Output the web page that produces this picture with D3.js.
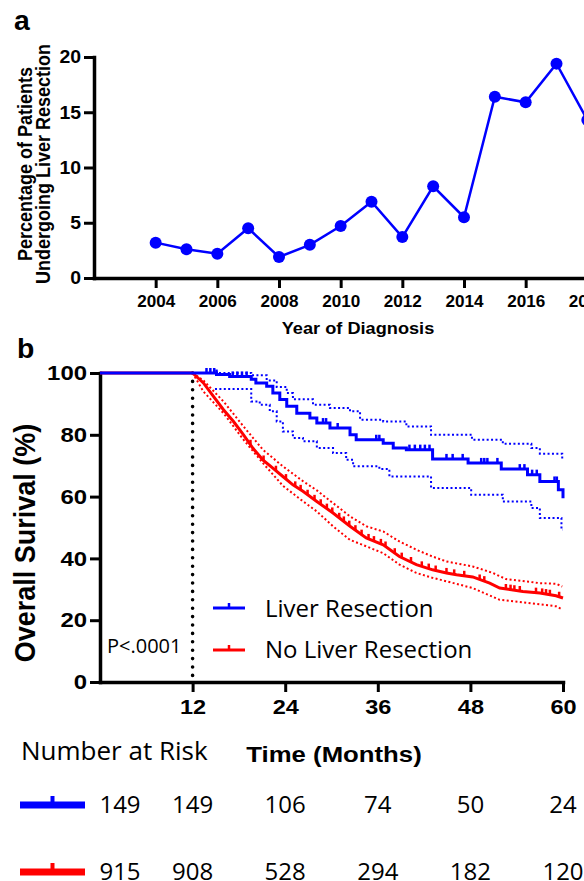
<!DOCTYPE html>
<html>
<head>
<meta charset="utf-8">
<title>Liver resection trends and survival</title>
<script src="https://d3js.org/d3.v7.min.js"></script>
<style>
  body { margin: 0; background: #fff; }
  svg { display: block; }
  .bold { font-family: "Liberation Sans", Arial, Helvetica, sans-serif; font-weight: bold; }
  .reg { font-family: "Open Sans", "Noto Sans", sans-serif; }
</style>
</head>
<body>
<svg id="chart" width="584" height="881"></svg>
<script>
// ---- panel a: percentage resected by year ----
var years = [2004, 2005, 2006, 2007, 2008, 2009, 2010, 2011, 2012, 2013, 2014, 2015, 2016, 2017, 2018];
var pctResected = [3.2, 2.6, 2.2, 4.5, 1.9, 3.0, 4.7, 6.9, 3.7, 8.3, 5.5, 16.4, 15.9, 19.4, 14.3];
var yearTicks = [2004, 2006, 2008, 2010, 2012, 2014, 2016, 2018, 2020];
var pctTicks = [0, 5, 10, 15, 20];

// ---- panel b: Kaplan-Meier ----
var monthTicks = [12, 24, 36, 48, 60];
var survTicks = [0, 20, 40, 60, 80, 100];

// liver resection (step curve)
var resMonths = [0, 12, 15.1, 16.8, 19.6, 20.2, 21.6, 22.4, 23.3, 24.2, 25.5, 27.2, 28.1, 29.8, 32.4, 33.2, 36.7, 38, 39.7, 43.1, 47.7, 52, 55.4, 57, 59.4, 60];
var resSurv   = [100, 100, 99.5, 98.9, 98, 96.8, 95.7, 93.5, 91.4, 89.2, 87, 85.4, 83.8, 82.2, 80, 78.4, 77.3, 75.7, 75.2, 72.2, 70.9, 68.9, 67.1, 64.9, 62.2, 59.5];
var resUpMonths = [12, 19.6, 21.6, 22.9, 24.2, 25, 27.6, 29.8, 32.4, 33.7, 36.7, 39.7, 42.9, 48.2, 52.2, 55.9, 57, 59.9, 60];
var resUp       = [100, 99.3, 97.6, 95.5, 93.5, 91.5, 89.7, 88.7, 87.6, 84.9, 84.3, 82.7, 80, 78.4, 77.1, 75.7, 73.9, 72.2, 72.2];
var resLoMonths = [14.9, 19.6, 20.7, 22, 22.9, 23.7, 25, 26.3, 28.1, 30.2, 31.9, 32.8, 36.2, 37.5, 42.9, 48.1, 52.2, 55.9, 57, 59.8, 60];
var resLo       = [94.8, 90.8, 89.7, 87.6, 84.3, 81.1, 79, 77.9, 75.7, 74.1, 71.9, 69.8, 68.9, 66.5, 62.8, 60.6, 58.4, 56.3, 53.1, 49.3, 49.3];
var resCensor = [13.8, 14.3, 14.8, 15.1, 17.2, 17.8, 18.4, 19, 28.9, 29.3, 30.8, 35.8, 36.2, 40.1, 40.8, 41.5, 42.1, 42.7, 44.9, 45.7, 47, 49.4, 49.8, 50.2, 51.5, 54.4, 55, 56, 56.6, 58.9, 59.2];

// no liver resection (many events, drawn as a line)
var noMonths = [0, 12, 13.4, 14.7, 16, 17.3, 18.6, 19.8, 21.1, 22.4, 23.7, 25, 26.3, 28.1, 30.2, 32.4, 34.5, 36.7, 38.8, 41, 43.1, 44.9, 46.2, 48.3, 50.5, 51.8, 54.8, 57, 59.1, 60];
var noSurv   = [100, 100, 96.8, 92.4, 88.1, 84.3, 80, 75.7, 71.9, 69.2, 66.5, 63.8, 61.7, 58.4, 54.7, 50.4, 46.6, 44.4, 40.6, 38, 36.3, 35.3, 34.7, 34, 32, 30.4, 29.3, 28.8, 27.9, 27.2];
var noUpMonths = [12, 13.4, 16, 18.6, 21.1, 23.7, 26.3, 28.1, 30.2, 32.4, 34.5, 36.7, 38.8, 41, 43.1, 44.9, 48.3, 50.9, 52.6, 57, 59.1, 59.9];
var noUp       = [100, 97.6, 90.8, 82.7, 75.2, 69.8, 65, 62, 57.9, 53.6, 50.4, 48.7, 45.5, 42.8, 40.6, 39, 37.4, 35.3, 33.3, 32, 31.8, 30.9];
var noLoMonths = [12, 13.4, 16, 18.6, 21.1, 23.7, 26.3, 28.1, 30.2, 32.4, 34.5, 36.7, 38.8, 41, 43.1, 44.9, 48.3, 51.8, 54.8, 59.1, 59.8];
var noLo       = [100, 94, 87, 78.4, 70.9, 63.5, 58.5, 55.2, 50.4, 46, 43.9, 41.7, 38, 35.3, 33.7, 32.6, 30.4, 26.6, 25.8, 24.5, 23.6];
var noCensor = [19.5, 21.2, 22.8, 24.1, 25.3, 26.0, 26.9, 27.8, 28.6, 29.4, 30.1, 31.0, 31.6, 32.3, 33.1, 33.9, 34.8, 35.5, 36.4, 37.0, 38.2, 39.1, 40.3, 41.7, 42.6, 43.5, 44.9, 45.9, 47.2, 49.2, 49.8, 52.6, 53.2, 53.7, 54.4, 56.5, 57.3, 57.8, 58.3, 59.5];

// number at risk
var riskTimes = [0, 12, 24, 36, 48, 60];
var riskRes = [149, 149, 106, 74, 50, 24];
var riskNo = [915, 908, 528, 294, 182, 120];

var BLUE = "#0000ff", RED = "#ff0000";
var svg = d3.select("#chart");

function zip(a, b) { return a.map(function(v, i) { return [v, b[i]]; }); }

// text helper: the figure's lettering is a little wider than the font, so stretch it
function label(x, y, str, cls, size, anchor, sx) {
  return svg.append("text").attr("class", cls).attr("font-size", size)
    .attr("text-anchor", anchor || "start").attr("fill", "#000")
    .attr("transform", "translate(" + x + "," + y + ") scale(" + (sx || 1) + ",1)")
    .text(str);
}
function styleAxis(g, size, sx, left) {
  g.select(".domain").attr("stroke", "#000").attr("stroke-width", 3.5).attr("stroke-linecap", "square");
  g.selectAll(".tick line").attr("stroke", "#000").attr("stroke-width", 3);
  var t = g.selectAll("text").attr("class", "bold").attr("font-size", size).attr("fill", "#000")
    .attr("transform", "scale(" + sx + ",1)");
  if (left) t.attr("x", +t.attr("x") / sx);
}

// ======== panel a ========
var xa = d3.scaleLinear().domain([2002, 2020]).range([94, 649]);
var ya = d3.scaleLinear().domain([0, 20]).range([278, 57]);

label(14, 30, "a", "bold", 27, "start", 1.05);

var axA = svg.append("g").attr("transform", "translate(0,278)")
  .call(d3.axisBottom(xa).tickValues(yearTicks).tickFormat(d3.format("d")).tickSize(10).tickSizeOuter(0).tickPadding(8));
var ayA = svg.append("g").attr("transform", "translate(94,0)")
  .call(d3.axisLeft(ya).tickValues(pctTicks).tickSize(10).tickSizeOuter(0).tickPadding(3));
styleAxis(axA, 16, 1.07, false);
styleAxis(ayA, 18, 1.08, true);

svg.append("path").datum(zip(years, pctResected))
  .attr("fill", "none").attr("stroke", BLUE).attr("stroke-width", 2.5)
  .attr("d", d3.line().x(function(d) { return xa(d[0]); }).y(function(d) { return ya(d[1]); }));
svg.selectAll(".dotA").data(zip(years, pctResected)).enter().append("circle")
  .attr("cx", function(d) { return xa(d[0]); }).attr("cy", function(d) { return ya(d[1]); })
  .attr("r", 6).attr("fill", BLUE);

label(358, 334, "Year of Diagnosis", "bold", 17, "middle", 1.07);
var ttlA = svg.append("text").attr("class", "bold").attr("font-size", 18).attr("fill", "#000")
  .attr("text-anchor", "middle").attr("transform", "translate(0,164) rotate(-90) scale(1,1.1)");
ttlA.append("tspan").attr("x", 0).attr("y", 29).text("Percentage of Patients");
ttlA.append("tspan").attr("x", 0).attr("y", 45.5).text("Undergoing Liver Resection");

// ======== panel b ========
var xb = d3.scaleLinear().domain([0, 60]).range([100, 563]);
var yb = d3.scaleLinear().domain([0, 100]).range([682, 373]);

label(17, 358, "b", "bold", 27, "start", 1.05);

// reference line at 12 months
svg.append("line").attr("x1", xb(12)).attr("x2", xb(12)).attr("y1", yb(100)).attr("y2", yb(0))
  .attr("stroke", "#000").attr("stroke-width", 3.6).attr("stroke-linecap", "round")
  .attr("stroke-dasharray", "0,8.4");

var axB = svg.append("g").attr("transform", "translate(0,682)")
  .call(d3.axisBottom(xb).tickValues(monthTicks).tickSize(10).tickSizeOuter(0).tickPadding(7));
var ayB = svg.append("g").attr("transform", "translate(100,0)")
  .call(d3.axisLeft(yb).tickValues(survTicks).tickSize(10).tickSizeOuter(0).tickPadding(3));
styleAxis(axB, 21, 1.12, false);
styleAxis(ayB, 21, 1.14, true);

function kmLine(curve) {
  return d3.line().curve(curve).x(function(d) { return xb(d[0]); }).y(function(d) { return yb(d[1]); });
}
function drawCurve(months, vals, color, curve, dotted) {
  svg.append("path").datum(zip(months, vals))
    .attr("fill", "none").attr("stroke", color)
    .attr("stroke-width", dotted ? 2 : 3)
    .attr("stroke-dasharray", dotted ? "2,2.4" : null)
    .attr("d", kmLine(curve));
}
function stepAt(months, vals, t) {
  var v = vals[0];
  for (var i = 0; i < months.length; i++) if (months[i] <= t) v = vals[i];
  return v;
}
function linAt(months, vals, t) {
  return d3.scaleLinear().domain(months).range(vals)(t);
}
function drawCensor(times, fn, color) {
  svg.append("g").selectAll("line").data(times).enter().append("line")
    .attr("x1", function(t) { return xb(t); }).attr("x2", function(t) { return xb(t); })
    .attr("y1", function(t) { return yb(fn(t)); })
    .attr("y2", function(t) { return yb(fn(t)) - 5; })
    .attr("stroke", color).attr("stroke-width", 2.5);
}

// no resection
drawCurve(noUpMonths, noUp, RED, d3.curveLinear, true);
drawCurve(noLoMonths, noLo, RED, d3.curveLinear, true);
drawCurve(noMonths, noSurv, RED, d3.curveLinear, false);
drawCensor(noCensor, function(t) { return linAt(noMonths, noSurv, t); }, RED);

// resection
drawCurve(resUpMonths, resUp, BLUE, d3.curveStepAfter, true);
drawCurve(resLoMonths, resLo, BLUE, d3.curveStepAfter, true);
drawCurve(resMonths, resSurv, BLUE, d3.curveStepAfter, false);
drawCensor(resCensor, function(t) { return stepAt(resMonths, resSurv, t); }, BLUE);

// axis titles
svg.append("text").attr("class", "bold").attr("font-size", 27).attr("fill", "#000")
  .attr("text-anchor", "middle").attr("transform", "translate(0,543) rotate(-90) scale(1,1.1)")
  .attr("x", 0).attr("y", 31.5)
  .text("Overall Surival (%)");
label(334, 762, "Time (Months)", "bold", 23, "middle", 1.12);

label(107, 653, "P<.0001", "reg", 20, "start", 1);

// legend
var legend = [
  { label: "Liver Resection", color: BLUE, y: 608, ty: 617 },
  { label: "No Liver Resection", color: RED, y: 650, ty: 658 }
];
legend.forEach(function(l) {
  svg.append("line").attr("x1", 213).attr("x2", 245).attr("y1", l.y).attr("y2", l.y)
    .attr("stroke", l.color).attr("stroke-width", 3);
  svg.append("line").attr("x1", 229).attr("x2", 229).attr("y1", l.y).attr("y2", l.y - 5)
    .attr("stroke", l.color).attr("stroke-width", 2.5);
  label(265, l.ty, l.label, "reg", 24, "start", 1);
});

// number at risk table
label(21, 760, "Number at Risk", "reg", 26, "start", 1);
var rows = [
  { vals: riskRes, color: BLUE, y: 805, ty: 813 },
  { vals: riskNo, color: RED, y: 872, ty: 880 }
];
rows.forEach(function(r) {
  svg.append("line").attr("x1", 20).attr("x2", 85).attr("y1", r.y).attr("y2", r.y)
    .attr("stroke", r.color).attr("stroke-width", 7);
  svg.append("line").attr("x1", 52.5).attr("x2", 52.5).attr("y1", r.y).attr("y2", r.y - 9)
    .attr("stroke", r.color).attr("stroke-width", 4);
  svg.append("g").selectAll("text").data(r.vals).enter().append("text")
    .attr("class", "reg").attr("font-size", 24).attr("text-anchor", "middle").attr("fill", "#000")
    .attr("x", function(d, i) { return riskTimes[i] === 0 ? xb(0) + 20 : xb(riskTimes[i]); })
    .attr("y", r.ty).text(function(d) { return d; });
});
</script>
</body>
</html>
